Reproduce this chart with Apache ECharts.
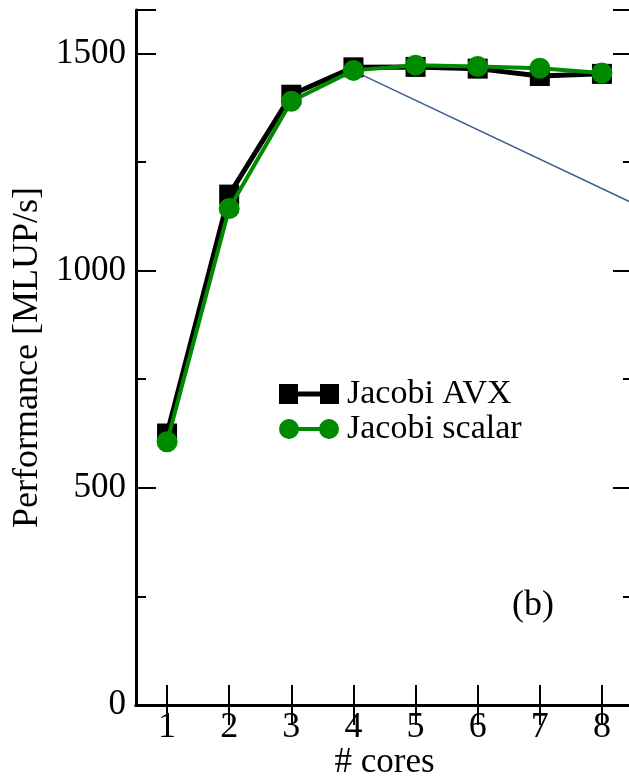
<!DOCTYPE html>
<html>
<head>
<meta charset="utf-8">
<script src="https://cdn.jsdelivr.net/npm/echarts@6/dist/echarts.min.js"></script>
<style>
html,body{margin:0;padding:0;background:#fff;}
#chart{width:629px;height:776px;}
</style>
</head>
<body>
<div id="chart"></div>
<script>
var cores = ['1','2','3','4','5','6','7','8'];
var jacobiAVX = [625, 1175, 1405, 1468, 1469, 1465, 1448, 1453];
var jacobiScalar = [606, 1143, 1390, 1461, 1473, 1470, 1466, 1455];
var refLine = [[4, 1460], [8.5, 1155]];
var yMajorTicks = [0, 500, 1000, 1500];

var FONT = '"Liberation Serif","DejaVu Serif","Times New Roman",serif';
var chart = echarts.init(document.getElementById('chart'), null, {renderer:'canvas'});

var axisLineStyle = {show:true, lineStyle:{color:'#000', width:3}};
var option = {
  animation:false,
  backgroundColor:'#fff',
  grid:{left:136, width:497, top:10, height:695, containLabel:false, outerBoundsMode:'none'},
  legend:{
    left:279, top:377, orient:'vertical', itemGap:1, padding:0,
    itemWidth:60, itemHeight:20,
    textStyle:{fontFamily:FONT, fontSize:34, color:'#000', lineHeight:34, padding:[0,0,0,3]},
    itemStyle:{borderWidth:0},
    data:[
      {name:'Jacobi AVX', icon:'path://M0,0H19V20H0Z M41,0H60V20H41Z M19,7.5H41V12.5H19Z'},
      {name:'Jacobi scalar', icon:'path://M0,10A10,10 0 1,1 20,10A10,10 0 1,1 0,10Z M40,10A10,10 0 1,1 60,10A10,10 0 1,1 40,10Z M18,8H42V12H18Z'}
    ]
  },
  xAxis:[
    {type:'category', position:'bottom', data:cores, boundaryGap:true,
     axisLine:axisLineStyle,
     axisTick:{show:true, inside:true, length:20, alignWithLabel:true, interval:0, lineStyle:{color:'#000', width:2}},
     axisLabel:{fontFamily:FONT, fontSize:36, color:'#000', margin:5, interval:0},
     splitLine:{show:false},
     name:'# cores', nameLocation:'middle', nameGap:40, nameMoveOverlap:false,
     nameTextStyle:{fontFamily:FONT, fontSize:35, color:'#000'}},
    {type:'category', position:'top', data:cores, boundaryGap:true,
     axisLine:axisLineStyle,
     axisTick:{show:true, inside:true, length:20, alignWithLabel:true, interval:0, lineStyle:{color:'#000', width:2}},
     axisLabel:{show:false}, splitLine:{show:false}},
    {type:'value', min:0.5, max:8.5, show:false}
  ],
  yAxis:[
    {type:'value', position:'left', min:0, max:1600, interval:500,
     axisLine:axisLineStyle,
     axisTick:{show:true, inside:true, length:20, lineStyle:{color:'#000', width:2}},
     axisLabel:{fontFamily:FONT, fontSize:35, color:'#000', margin:10,
       formatter:function(v){return yMajorTicks.indexOf(v) >= 0 ? String(v) : '';}},
     splitLine:{show:false},
     name:'Performance [MLUP/s]', nameLocation:'middle', nameRotate:90, nameGap:90, nameMoveOverlap:false,
     nameTextStyle:{fontFamily:FONT, fontSize:36, color:'#000'}},
    {type:'value', position:'left', min:0, max:1600, interval:250,
     axisLine:{show:false},
     axisTick:{show:true, inside:true, length:10, lineStyle:{color:'#000', width:2}},
     axisLabel:{show:false}, splitLine:{show:false}},
    {type:'value', position:'right', min:0, max:1600, interval:500,
     axisLine:axisLineStyle,
     axisTick:{show:true, inside:true, length:20, lineStyle:{color:'#000', width:2}},
     axisLabel:{show:false}, splitLine:{show:false}},
    {type:'value', position:'right', min:0, max:1600, interval:250,
     axisLine:{show:false},
     axisTick:{show:true, inside:true, length:10, lineStyle:{color:'#000', width:2}},
     axisLabel:{show:false}, splitLine:{show:false}}
  ],
  series:[
    {name:'ref', type:'line', xAxisIndex:2, yAxisIndex:0, data:refLine,
     symbol:'none', silent:true, z:1,
     lineStyle:{color:'#3b5e8f', width:1.5}},
    {name:'Jacobi AVX', type:'line', xAxisIndex:0, yAxisIndex:0, data:jacobiAVX,
     symbol:'rect', symbolSize:20, z:2,
     itemStyle:{color:'#000'}, lineStyle:{color:'#000', width:5}},
    {name:'Jacobi scalar', type:'line', xAxisIndex:0, yAxisIndex:0, data:jacobiScalar,
     symbol:'circle', symbolSize:21, z:3,
     itemStyle:{color:'#008a00'}, lineStyle:{color:'#008a00', width:4}}
  ],
  graphic:[
    {type:'text', left:512, top:588, style:{text:'(b)', fontFamily:FONT, fontSize:36, fill:'#000'}}
  ]
};
chart.setOption(option);
</script>
</body>
</html>
